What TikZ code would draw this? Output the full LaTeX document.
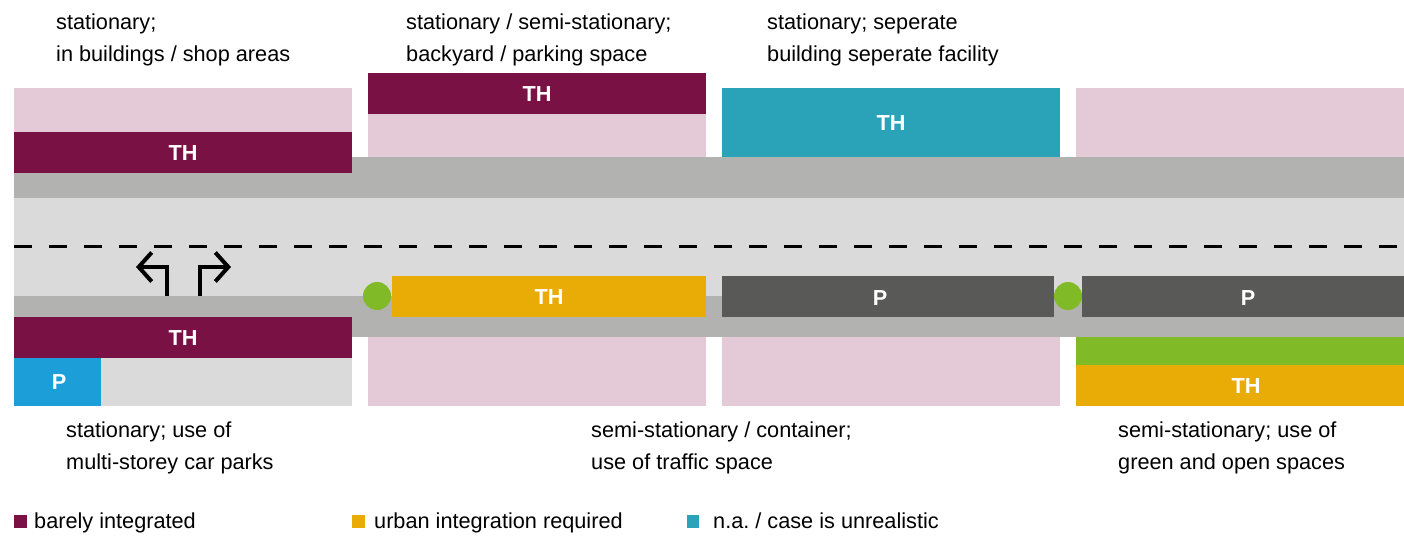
\documentclass[tikz,border=0pt]{standalone}
\usepackage{fontspec}
\setmainfont{Liberation Sans}
\usetikzlibrary{arrows.meta}
\frenchspacing

\definecolor{thred}{HTML}{7A1144}
\definecolor{thpink}{HTML}{E4C9D6}
\definecolor{thteal}{HTML}{2AA3B9}
\definecolor{thyellow}{HTML}{E9AC07}
\definecolor{thdark}{HTML}{595958}
\definecolor{thblue}{HTML}{1C9FD9}
\definecolor{thgreen}{HTML}{80BA27}
\definecolor{walkgray}{HTML}{B2B2B1}
\definecolor{roadgray}{HTML}{DADADA}

\begin{document}
\begin{tikzpicture}[x=1pt, y=-1pt,
        every node/.style={inner sep=0pt},
        boxlabel/.style={text=white, font=\fontsize{21.7}{26}\selectfont\bfseries},
        txt/.style={anchor=base west, font=\fontsize{21.7}{26}\selectfont},
        turn/.style={line width=4pt, -{Straight Barb[length=13pt, width=29pt]}},
        dot/.style={circle, fill=thgreen, minimum size=28pt}]
        \useasboundingbox (0,0) rectangle (1404,536);
        % road and sidewalks
        \fill [roadgray] (14,198) rectangle (1404,296);
        \fill [walkgray] (14,157) rectangle (1404,198);
        \fill [walkgray] (14,296) rectangle (1404,337);
        \draw [black, line width=3pt, dash pattern=on 18pt off 17pt] (14,246) -- (1404,246);
        % top row
        \fill [thpink] (14,88) rectangle (352,132);
        \fill [thred] (14,132) rectangle (352,173);
        \node [boxlabel] (thA) at (183,153) {TH};
        \fill [thred] (368,73) rectangle (706,114);
        \node [boxlabel] (thB) at (537,94) {TH};
        \fill [thpink] (368,114) rectangle (706,157);
        \fill [thteal] (722,88) rectangle (1060,157);
        \node [boxlabel] (thC) at (891,123) {TH};
        \fill [thpink] (1076,88) rectangle (1404,157);
        % bottom row
        \fill [thred] (14,317) rectangle (352,358);
        \node [boxlabel] (thD) at (183,338) {TH};
        \fill [roadgray] (14,358) rectangle (352,406);
        \fill [thblue] (14,358) rectangle (101,406);
        \node [boxlabel] (pA) at (59,382) {P};
        \fill [white] (352,337) rectangle (368,406);
        \fill [thyellow] (392,276) rectangle (706,317);
        \node [boxlabel] (thE) at (549,297) {TH};
        \fill [thpink] (368,337) rectangle (706,406);
        \fill [thdark] (722,276) rectangle (1054,317);
        \node [boxlabel] (pB) at (880,298) {P};
        \fill [thdark] (1082,276) rectangle (1404,317);
        \node [boxlabel] (pC) at (1248,298) {P};
        \fill [thpink] (722,337) rectangle (1060,406);
        \fill [thgreen] (1076,337) rectangle (1404,365);
        \fill [thyellow] (1076,365) rectangle (1404,406);
        \node [boxlabel] (thF) at (1246,386) {TH};
        \node [dot] (dotA) at (377,296) {};
        \node [dot] (dotB) at (1068,296) {};
        % turning arrows
        \draw [turn] (167,296) -- (167,267) -- (136,267);
        \draw [turn] (200,296) -- (200,267) -- (231,267);
        % captions
        \node [txt] (capA1) at (56,29) {stationary;};
        \node [txt] (capA2) at (56,61) {in buildings / shop areas};
        \node [txt] (capB1) at (406,29) {stationary / semi-stationary;};
        \node [txt] (capB2) at (406,61) {backyard / parking space};
        \node [txt] (capC1) at (767,29) {stationary; seperate};
        \node [txt] (capC2) at (767,61) {building seperate facility};
        \node [txt] (capD1) at (66,437) {stationary; use of};
        \node [txt] (capD2) at (66,469) {multi-storey car parks};
        \node [txt] (capE1) at (591,437) {semi-stationary / container;};
        \node [txt] (capE2) at (591,469) {use of traffic space};
        \node [txt] (capF1) at (1118,437) {semi-stationary; use of};
        \node [txt] (capF2) at (1118,469) {green and open spaces};
        % legend
        \fill [thred] (14,515) rectangle (27,528);
        \node [txt] (legA) at (34,528) {barely integrated};
        \fill [thyellow] (352,515) rectangle (365,528);
        \node [txt] (legB) at (374,528) {urban integration required};
        \fill [thteal] (687,515) rectangle (699,528);
        \node [txt] (legC) at (713,528) {n.a. / case is unrealistic};
\end{tikzpicture}
\end{document}
